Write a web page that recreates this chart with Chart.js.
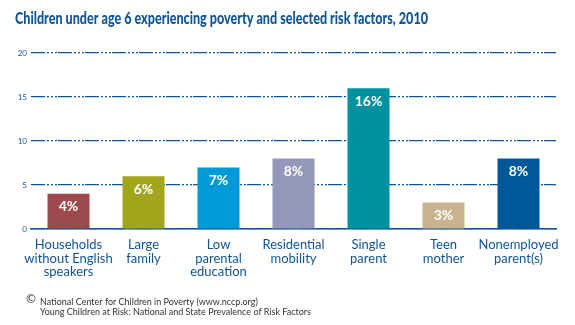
<!DOCTYPE html>
<html>
<head>
<meta charset="utf-8">
<script src="https://cdn.jsdelivr.net/npm/chart.js@4/dist/chart.umd.min.js"></script>
<style>
  html, body { margin: 0; padding: 0; background: #fff; }
  #wrap { width: 575px; height: 325px; }
</style>
</head>
<body>
<div id="wrap"><canvas id="risk-chart" width="575" height="325"></canvas></div>
<script>
// risk factors for children under 6 in poverty, 2010
const categories = [
  ['Households', 'without English', 'speakers'],
  ['Large', 'family'],
  ['Low', 'parental', 'education'],
  ['Residential', 'mobility'],
  ['Single', 'parent'],
  ['Teen', 'mother'],
  ['Nonemployed', 'parent(s)']
];
const percents = [4, 6, 7, 8, 16, 3, 8];
const barColors = ['#9c4a4b', '#a2a61c', '#0099d8', '#9497b7', '#00939f', '#c9b38e', '#00579a'];
const yTicks = [0, 5, 10, 15, 20];

const navy = '#0f5595';

// title, in-bar value labels and source note
const extras = {
  id: 'extras',
  afterDatasetsDraw(chart) {
    const ctx = chart.ctx;
    const meta = chart.getDatasetMeta(0);
    ctx.save();
    ctx.fillStyle = '#fff';
    ctx.font = 'bold 14px Lato';
    ctx.textAlign = 'center';
    ctx.textBaseline = 'middle';
    meta.data.forEach((bar, i) => {
      ctx.fillText(percents[i] + '%', bar.x, bar.y + 13);
    });
    ctx.restore();
  },
  afterDraw(chart) {
    const ctx = chart.ctx;
    ctx.save();
    ctx.fillStyle = navy;
    ctx.font = '900 17px Lato';
    ctx.textBaseline = 'middle';
    ctx.textAlign = 'left';
    ctx.fillText('Children under age 6 experiencing poverty and selected risk factors, 2010', 15, 19, 413);

    ctx.fillStyle = '#333';
    ctx.font = '12px "DejaVu Sans"';
    ctx.fillText('\u00A9', 25, 300);
    ctx.font = '9px Lato';
    ctx.fillText('National Center for Children in Poverty (www.nccp.org)', 40, 302);
    ctx.fillText('Young Children at Risk: National and State Prevalence of Risk Factors', 40, 312);
    ctx.restore();
  }
};

new Chart(document.getElementById('risk-chart'), {
  type: 'bar',
  data: {
    labels: categories,
    datasets: [{
      data: percents,
      backgroundColor: barColors,
      borderWidth: 0,
      categoryPercentage: 1,
      barPercentage: 0.56
    }]
  },
  options: {
    responsive: false,
    animation: false,
    events: [],
    layout: { padding: { top: 53, right: 19, left: 0, bottom: 0 } },
    plugins: { legend: { display: false }, tooltip: { enabled: false } },
    scales: {
      x: {
        afterFit(scale) { scale.height = 96; },
        grid: { display: false },
        border: { display: true, color: navy, width: 1.5 },
        ticks: {
          color: navy,
          padding: 1,
          maxRotation: 0,
          autoSkip: false,
          font: { family: 'Lato', size: 13, lineHeight: 1.05 }
        }
      },
      y: {
        min: 0,
        max: 20,
        afterFit(scale) { scale.width = 31; },
        afterBuildTicks(scale) { scale.ticks = yTicks.map(v => ({ value: v })); },
        grid: { color: navy, lineWidth: 1.2, drawTicks: false },
        border: { display: false, dash: [14, 2, 2, 2, 2, 2, 2, 1] },
        ticks: {
          color: navy,
          padding: 4,
          font: { family: 'Lato', size: 8 }
        }
      }
    }
  },
  plugins: [extras]
});
</script>
</body>
</html>
